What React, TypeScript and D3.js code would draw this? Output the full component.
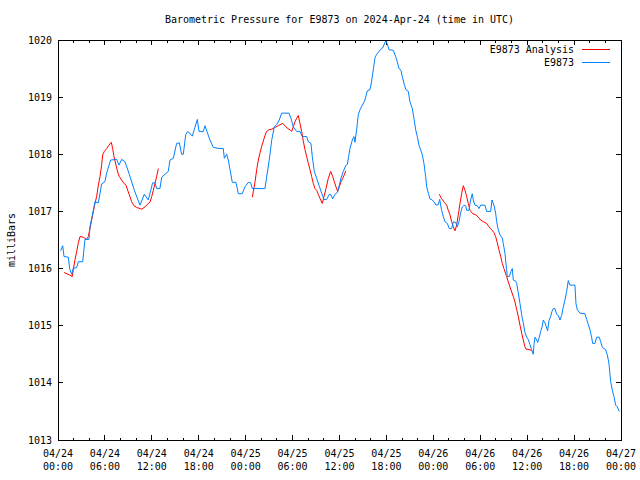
import React from "react";
import * as d3 from "d3";

const title = "Barometric Pressure for E9873 on 2024-Apr-24 (time in UTC)";
const yLabel = "milliBars";
const seriesNames = ["E9873 Analysis", "E9873"];
const startDate = "2024-04-24T00:00:00Z";
const yTicks = [1013, 1014, 1015, 1016, 1017, 1018, 1019, 1020];

// hours since 2024-04-24 00:00 UTC
const stationHours = [
  0.34, 0.6, 0.77, 1.32, 1.49, 1.75, 1.96, 2.39, 2.6, 3.16, 3.45, 3.96, 4.09, 4.52, 4.73, 5.16, 5.58, 6.01, 6.22, 6.73,
  7.5, 7.8, 8.14, 8.57, 9.12, 9.76, 10.49, 11.04, 11.55, 12.1, 12.4, 12.62, 13.04, 13.26, 14.1, 14.32, 14.75, 15.17, 15.51, 15.81,
  16.02, 16.33, 16.58, 17.18, 17.82, 18.03, 18.58, 18.8, 19.35, 19.86, 20.72, 21.14, 21.27, 21.57, 21.78, 22.0, 22.29, 22.76, 23.06, 23.57,
  23.91, 24.34, 24.64, 24.85, 26.47, 26.68, 26.89, 27.11, 27.32, 27.66, 27.96, 28.3, 28.6, 29.54, 29.8, 30.09, 30.52, 30.95, 31.24, 31.8,
  32.01, 32.35, 32.52, 32.78, 33.08, 33.42, 33.72, 34.02, 34.36, 34.69, 34.91, 35.13, 35.42, 35.72, 35.93, 36.19, 36.48, 36.79, 37.0, 37.17,
  37.34, 37.64, 37.85, 37.98, 38.19, 38.4, 38.62, 38.92, 39.17, 39.35, 39.56, 39.9, 40.11, 40.32, 40.54, 40.75, 41.05, 41.3, 41.52, 41.73,
  41.94, 42.16, 42.33, 42.88, 43.18, 43.39, 43.61, 43.86, 44.03, 44.29, 44.5, 44.8, 45.01, 45.31, 45.52, 45.74, 45.95, 46.16, 46.38, 46.59,
  46.8, 47.02, 47.15, 47.36, 47.57, 47.87, 48.12, 48.34, 48.64, 48.81, 49.06, 49.28, 49.49, 49.79, 50.04, 50.34, 50.56, 50.9, 51.07, 51.28,
  51.5, 51.71, 51.92, 52.13, 52.26, 52.56, 52.77, 52.98, 53.11, 53.32, 53.62, 53.84, 54.05, 54.6, 54.82, 55.33, 55.5, 55.75, 55.97, 56.1,
  56.3, 56.52, 56.82, 56.94, 57.16, 57.37, 57.46, 57.72, 57.93, 58.1, 58.23, 58.53, 58.66, 58.87, 59.08, 59.3, 59.5, 59.72, 59.94, 60.14,
  60.36, 60.58, 60.78, 60.87, 61.0, 61.22, 61.34, 61.55, 61.73, 61.93, 62.06, 62.28, 62.5, 62.62, 62.79, 63.0, 63.17, 63.34, 63.55, 63.77,
  63.98, 64.19, 64.41, 64.62, 64.83, 65.05, 65.26, 65.47, 66.11, 66.24, 66.41, 66.75, 67.39, 67.61, 67.82, 68.03, 68.25, 68.38, 68.67, 68.89,
  69.22, 69.4, 69.62, 69.82, 70.04, 70.25, 70.46, 70.68, 70.88, 71.1, 71.32, 71.52, 71.78,
];
const stationPressure = [
  1016.31, 1016.4, 1016.21, 1016.2, 1016.0, 1015.9, 1016.0, 1016.02, 1016.12, 1016.12, 1016.51, 1016.51, 1016.73, 1017.02, 1017.17, 1017.15, 1017.48, 1017.52, 1017.67, 1017.9,
  1017.91, 1017.81, 1017.91, 1017.87, 1017.65, 1017.37, 1017.11, 1017.3, 1017.2, 1017.5, 1017.5, 1017.4, 1017.4, 1017.6, 1017.7, 1017.9, 1017.93, 1018.19, 1018.2, 1018.0,
  1018.0, 1018.34, 1018.4, 1018.32, 1018.61, 1018.4, 1018.4, 1018.5, 1018.28, 1018.12, 1018.1, 1018.1, 1017.93, 1018.0, 1017.9, 1017.73, 1017.51, 1017.51, 1017.31, 1017.31,
  1017.43, 1017.51, 1017.5, 1017.4, 1017.4, 1017.6, 1017.78, 1018.0, 1018.24, 1018.48, 1018.52, 1018.6, 1018.72, 1018.72, 1018.63, 1018.48, 1018.4, 1018.4, 1018.31, 1018.31,
  1018.22, 1018.19, 1017.96, 1017.7, 1017.58, 1017.44, 1017.32, 1017.21, 1017.21, 1017.3, 1017.29, 1017.22, 1017.3, 1017.33, 1017.43, 1017.58, 1017.7, 1017.8, 1017.82, 1017.96,
  1018.1, 1018.25, 1018.31, 1018.21, 1018.43, 1018.69, 1018.78, 1018.86, 1018.92, 1019.0, 1019.11, 1019.13, 1019.28, 1019.48, 1019.69, 1019.75, 1019.8, 1019.84, 1019.86, 1019.93,
  1019.99, 1019.91, 1019.83, 1019.82, 1019.71, 1019.62, 1019.5, 1019.47, 1019.36, 1019.22, 1019.13, 1019.1, 1018.92, 1018.8, 1018.63, 1018.43, 1018.31, 1018.16, 1018.08, 1017.99,
  1017.84, 1017.61, 1017.43, 1017.32, 1017.22, 1017.2, 1017.16, 1017.11, 1017.12, 1017.21, 1017.02, 1016.91, 1016.82, 1016.79, 1016.7, 1016.7, 1016.82, 1016.8, 1016.73, 1016.82,
  1016.98, 1017.08, 1017.11, 1017.1, 1017.02, 1017.02, 1017.2, 1017.31, 1017.2, 1017.11, 1017.1, 1017.05, 1017.11, 1017.11, 1017.0, 1017.0, 1017.2, 1017.11, 1016.97, 1016.82,
  1016.68, 1016.59, 1016.53, 1016.44, 1016.27, 1015.98, 1015.86, 1015.86, 1015.95, 1016.0, 1015.8, 1015.78, 1015.74, 1015.57, 1015.39, 1015.19, 1015.05, 1014.88, 1014.8, 1014.76,
  1014.67, 1014.58, 1014.5, 1014.67, 1014.8, 1014.75, 1014.71, 1014.8, 1014.9, 1014.99, 1015.1, 1015.05, 1014.96, 1014.91, 1015.09, 1015.16, 1015.25, 1015.3, 1015.3, 1015.2,
  1015.18, 1015.1, 1015.18, 1015.33, 1015.45, 1015.6, 1015.79, 1015.71, 1015.71, 1015.39, 1015.28, 1015.22, 1015.21, 1015.11, 1015.02, 1014.93, 1014.79, 1014.69, 1014.69, 1014.8,
  1014.8, 1014.72, 1014.62, 1014.6, 1014.58, 1014.49, 1014.34, 1014.02, 1013.88, 1013.76, 1013.61, 1013.58, 1013.5,
];

// analysis: null marks a gap between analysis runs
const analysisHours = [
  0.77, 1.45, 1.83, 1.96, 2.17, 2.39, 2.6, 2.81, 3.24, 3.67, 3.88, 4.09, 4.3, 4.52, 4.73, 4.94, 5.16, 5.37, 5.58, 5.71,
  5.93, 6.22, 6.52, 6.82, 6.99, 7.16, 7.42, 7.63, 7.84, 8.14, 8.44, 8.7, 8.91, 9.12, 9.42, 9.72, 10.06, 10.49, 10.7, 11.13,
  11.55, 11.76, 11.98, 12.19, 12.4, 12.62, 12.83, 18,
  24.85, 24.98, 25.19, 25.41, 25.62, 25.83, 26.05, 26.26, 26.47, 26.68, 26.98, 27.32, 27.75, 28.17, 28.73, 29.03, 29.37, 29.67, 29.88, 30.09,
  30.31, 30.52, 30.73, 30.95, 31.16, 31.37, 31.59, 31.8, 32.01, 32.23, 32.44, 32.65, 32.86, 33.08, 33.29, 33.5, 33.8, 34.02, 34.27, 34.57,
  34.87, 35.13, 35.34, 35.55, 35.77, 35.98, 36.19, 36.41, 36.61, 36.79, 42,
  48.76, 49.06, 49.4, 49.7, 49.91, 50.13, 50.34, 50.56, 50.77, 50.98, 51.19, 51.41, 51.62, 51.83, 52.05, 52.26, 52.47, 52.69, 53.03, 53.45,
  53.75, 54.05, 54.39, 54.82, 55.12, 55.46, 55.75, 55.97, 56.18, 56.39, 56.61, 56.82, 57.03, 57.25, 57.37, 57.58, 57.8, 58.02, 58.23, 58.44,
  58.66, 58.87, 59.08, 59.3, 59.5, 59.72, 59.85, 60.36, 60.58,
];
const analysisPressure = [
  1015.93, 1015.89, 1015.86, 1015.99, 1016.15, 1016.3, 1016.45, 1016.56, 1016.55, 1016.51, 1016.56, 1016.7, 1016.85, 1017.0, 1017.14, 1017.26, 1017.46, 1017.61, 1017.81, 1017.99,
  1018.05, 1018.1, 1018.16, 1018.21, 1018.1, 1017.96, 1017.81, 1017.69, 1017.61, 1017.55, 1017.49, 1017.46, 1017.37, 1017.29, 1017.17, 1017.1, 1017.07, 1017.05, 1017.04, 1017.08,
  1017.14, 1017.16, 1017.26, 1017.37, 1017.49, 1017.61, 1017.75, null,
  1017.25, 1017.35, 1017.51, 1017.73, 1017.9, 1018.02, 1018.14, 1018.23, 1018.33, 1018.4, 1018.43, 1018.44, 1018.47, 1018.5, 1018.54, 1018.5, 1018.45, 1018.43, 1018.4, 1018.48,
  1018.57, 1018.63, 1018.68, 1018.54, 1018.4, 1018.23, 1018.08, 1017.96, 1017.84, 1017.73, 1017.61, 1017.49, 1017.4, 1017.37, 1017.3, 1017.23, 1017.14, 1017.26, 1017.4, 1017.58,
  1017.7, 1017.61, 1017.52, 1017.43, 1017.35, 1017.43, 1017.52, 1017.58, 1017.64, 1017.71, null,
  1017.3, 1017.22, 1017.16, 1017.11, 1017.02, 1016.94, 1016.82, 1016.73, 1016.66, 1016.76, 1016.94, 1017.14, 1017.31, 1017.45, 1017.37, 1017.26, 1017.14, 1017.02, 1016.96, 1016.94,
  1016.9, 1016.85, 1016.82, 1016.79, 1016.73, 1016.68, 1016.63, 1016.56, 1016.45, 1016.33, 1016.21, 1016.09, 1016.0, 1015.91, 1015.86, 1015.77, 1015.68, 1015.59, 1015.51, 1015.42,
  1015.28, 1015.16, 1015.01, 1014.87, 1014.75, 1014.63, 1014.59, 1014.58, 1014.56,
];

const W = 640;
const H = 480;
const M = { left: 58, right: 19, top: 40, bottom: 40 };
const FONT = "'DejaVu Sans Mono', monospace";
const RED = "#ff0000";
const BLUE = "#0080ff";

export default function App() {
  const t0 = new Date(startDate).getTime();
  const toDate = (h: number) => new Date(t0 + h * 3600 * 1000);
  const x = d3
    .scaleUtc()
    .domain([toDate(0), toDate(72)])
    .range([M.left, W - M.right]);
  const y = d3
    .scaleLinear()
    .domain([1013, 1020])
    .range([H - M.bottom, M.top]);

  const majorTicks = x.ticks(d3.utcHour.every(6)!);
  const minorTicks = x.ticks(d3.utcHour.every(2)!).filter((d) => d.getUTCHours() % 6 !== 0);
  const fmtDate = d3.utcFormat("%m/%d");
  const fmtTime = d3.utcFormat("%H:%M");

  const stationData = stationHours.map((h, i) => ({ t: toDate(h), p: stationPressure[i] as number | null }));
  const analysisData = analysisHours.map((h, i) => ({ t: toDate(h), p: analysisPressure[i] }));

  const line = d3
    .line<{ t: Date; p: number | null }>()
    .defined((d) => d.p !== null)
    .x((d) => x(d.t))
    .y((d) => y(d.p as number));

  const x0 = M.left;
  const x1 = W - M.right;
  const y0 = H - M.bottom;
  const y1 = M.top;
  const major = 5;
  const minor = 2.5;

  return (
    <div style={{ position: "absolute", left: 0, top: 0 }}>
      <svg width={W} height={H} style={{ display: "block", background: "#fff" }} fontFamily={FONT} fontSize={10}>
        <rect x={0} y={0} width={W} height={H} fill="#fff" />
        <text x={(x0 + x1) / 2} y={23} textAnchor="middle" fill="#000">
          {title}
        </text>
        <text transform={`translate(15, ${(y0 + y1) / 2}) rotate(-90)`} textAnchor="middle" fill="#000">
          {yLabel}
        </text>

        <g stroke="#000" strokeWidth={1} shapeRendering="crispEdges">
          {yTicks.map((v) => (
            <g key={v}>
              <line x1={x0} x2={x0 + major} y1={y(v)} y2={y(v)} />
              <line x1={x1} x2={x1 - major} y1={y(v)} y2={y(v)} />
            </g>
          ))}
          {majorTicks.map((d) => (
            <g key={"M" + d.getTime()}>
              <line x1={x(d)} x2={x(d)} y1={y0} y2={y0 - major} />
              <line x1={x(d)} x2={x(d)} y1={y1} y2={y1 + major} />
            </g>
          ))}
          {minorTicks.map((d) => (
            <g key={"m" + d.getTime()}>
              <line x1={x(d)} x2={x(d)} y1={y0} y2={y0 - minor} />
              <line x1={x(d)} x2={x(d)} y1={y1} y2={y1 + minor} />
            </g>
          ))}
        </g>

        {yTicks.map((v) => (
          <text key={"yl" + v} x={x0 - 6} y={y(v) + 3.5} textAnchor="end" fill="#000">
            {v}
          </text>
        ))}
        {majorTicks.map((d) => (
          <g key={"xl" + d.getTime()}>
            <text x={x(d)} y={457} textAnchor="middle" fill="#000">
              {fmtDate(d)}
            </text>
            <text x={x(d)} y={470} textAnchor="middle" fill="#000">
              {fmtTime(d)}
            </text>
          </g>
        ))}

        <path d={line(analysisData) ?? ""} fill="none" stroke={RED} strokeWidth={1} />
        <path d={line(stationData) ?? ""} fill="none" stroke={BLUE} strokeWidth={1} />

        <text x={574} y={53} textAnchor="end" fill="#000">
          {seriesNames[0]}
        </text>
        <line x1={582} x2={610} y1={49.5} y2={49.5} stroke={RED} strokeWidth={1} />
        <text x={574} y={66} textAnchor="end" fill="#000">
          {seriesNames[1]}
        </text>
        <line x1={582} x2={610} y1={62.5} y2={62.5} stroke={BLUE} strokeWidth={1} />

        <rect x={x0 + 0.5} y={y1 + 0.5} width={x1 - x0} height={y0 - y1} fill="none" stroke="#000" strokeWidth={1} shapeRendering="crispEdges" />
      </svg>
    </div>
  );
}
